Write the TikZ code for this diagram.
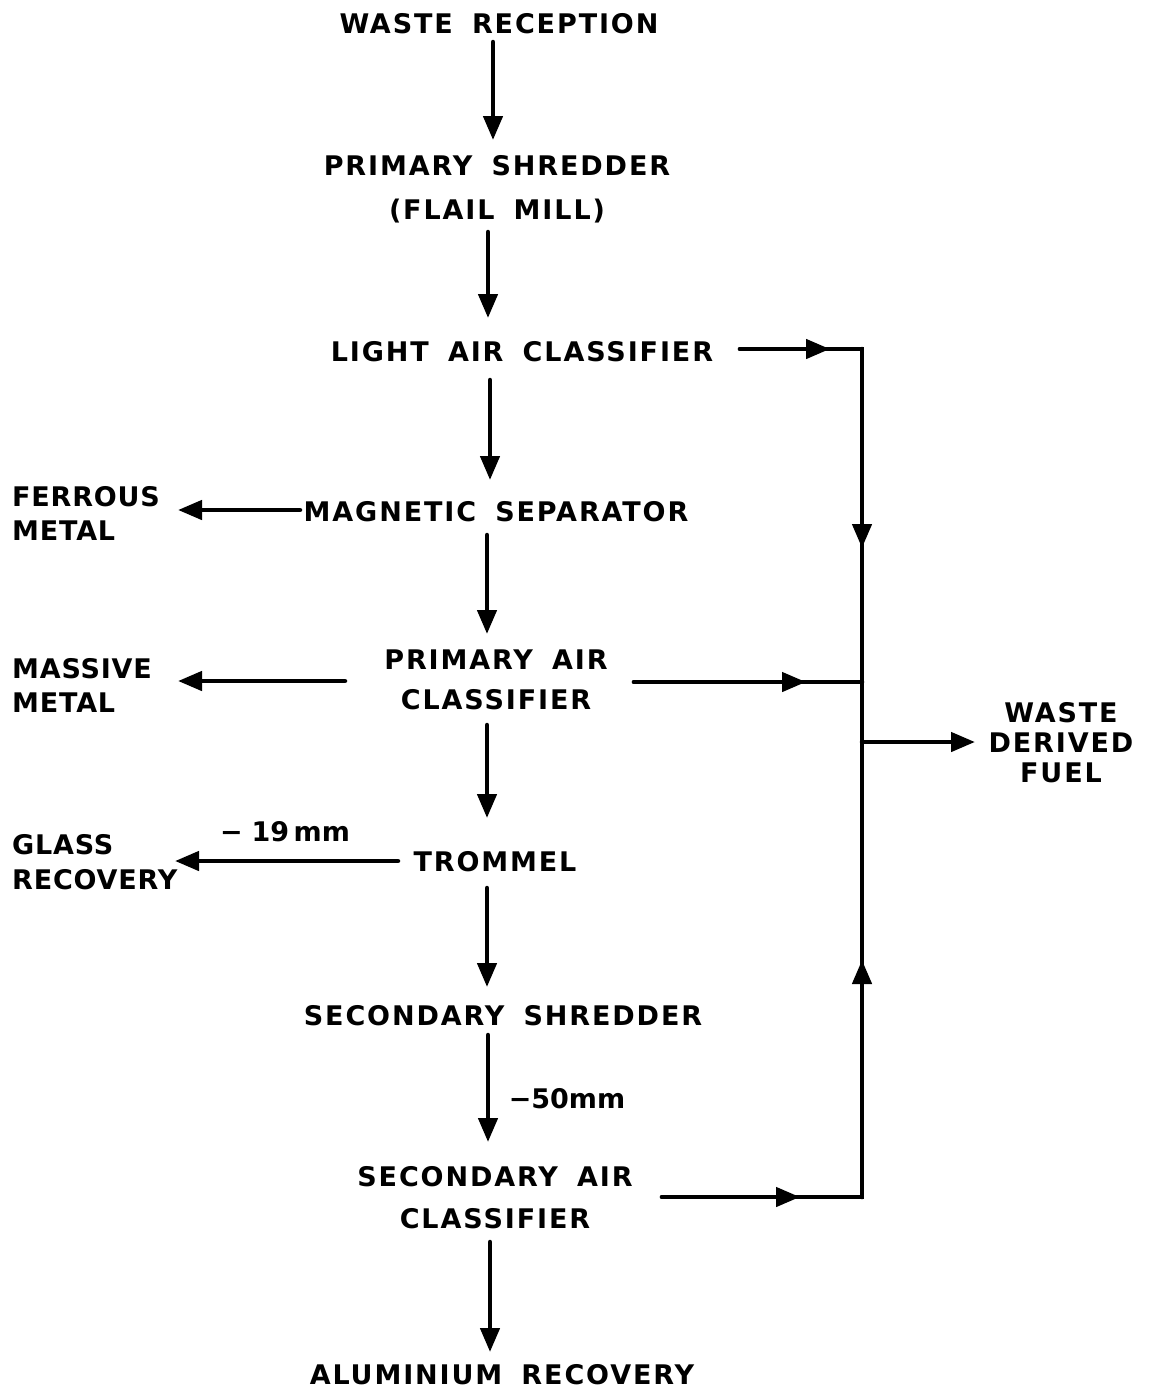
\documentclass[tikz,border=0pt]{standalone}
\usepackage{fontspec}
\setmainfont{DejaVu Sans}
\newfontfamily\wideface{DejaVu Sans}[LetterSpace=7,WordSpace=1.7]
\newfontfamily\sideface{DejaVu Sans}[LetterSpace=3]
\usetikzlibrary{arrows.meta}
\begin{document}
\begin{tikzpicture}[x=1pt,y=-1pt,
  lbl/.style={font=\wideface\fontsize{27}{30}\selectfont\bfseries, inner sep=0pt, align=center},
  lbls/.style={font=\sideface\fontsize{27}{30}\selectfont\bfseries, inner sep=0pt, align=left, anchor=west},
  lbln/.style={font=\fontsize{27}{30}\selectfont\bfseries, inner sep=0pt},
  ln/.style={line width=4.5pt, line cap=round},
  arr/.style={ln, -{Triangle[length=24pt,width=19pt]}}]
\useasboundingbox (0,0) rectangle (1154,1390);
% main column
\node[lbl] (wr) at (499,24) {WASTE RECEPTION};
\node[lbl] (ps) at (497,189) {PRIMARY SHREDDER\\[14pt](FLAIL MILL)};
\node[lbl] (lac) at (522,352) {LIGHT AIR CLASSIFIER};
\node[lbl] (ms) at (496,512) {MAGNETIC SEPARATOR};
\node[lbl] (pac) at (496,680) {PRIMARY AIR\\[10pt]CLASSIFIER};
\node[lbl] (tr) at (495,862) {TROMMEL};
\node[lbl] (ss) at (503,1016) {SECONDARY SHREDDER};
\node[lbl] (sac) at (495,1198) {SECONDARY AIR\\[12pt]CLASSIFIER};
\node[lbl] (ar) at (502,1375) {ALUMINIUM RECOVERY};
% side outputs
\node[lbls] (fm) at (12,513) {FERROUS\\[4pt]METAL};
\node[lbls] (mm) at (12,685) {MASSIVE\\[4pt]METAL};
\node[lbls] (gr) at (12,862) {GLASS\\[5pt]RECOVERY};
\node[lbl] (wdf) at (1061,743) {WASTE\\DERIVED\\FUEL};
% size labels
\node[lbln] (l19) at (285,832) {−\,\,19\,mm};
\node[lbln] (l50) at (567,1099) {−50mm};
% vertical arrow coordinates
\coordinate (a1s) at (493,42);  \coordinate (a1e) at (493,140);
\coordinate (a2s) at (488,232); \coordinate (a2e) at (488,318);
\coordinate (a3s) at (490,380); \coordinate (a3e) at (490,480);
\coordinate (a4s) at (487,535); \coordinate (a4e) at (487,634);
\coordinate (a5s) at (487,725); \coordinate (a5e) at (487,818);
\coordinate (a6s) at (487,888); \coordinate (a6e) at (487,987);
\coordinate (a7s) at (488,1035); \coordinate (a7e) at (488,1142);
\coordinate (a8s) at (490,1242); \coordinate (a8e) at (490,1352);
\draw[arr] (a1s) -- (a1e);
\draw[arr] (a2s) -- (a2e);
\draw[arr] (a3s) -- (a3e);
\draw[arr] (a4s) -- (a4e);
\draw[arr] (a5s) -- (a5e);
\draw[arr] (a6s) -- (a6e);
\draw[arr] (a7s) -- (a7e);
\draw[arr] (a8s) -- (a8e);
% left arrows
\coordinate (fs) at (300,510); \coordinate (fe) at (178,510);
\coordinate (ms0) at (345,681); \coordinate (me) at (178,681);
\coordinate (gs) at (398,861); \coordinate (ge) at (175,861);
\draw[arr] (fs) -- (fe);
\draw[arr] (ms0) -- (me);
\draw[arr] (gs) -- (ge);
% right collector
\coordinate (r1s) at (740,349); \coordinate (r1m) at (830,349); \coordinate (rtop) at (862,349);
\coordinate (r2s) at (634,682); \coordinate (r2m) at (806,682); \coordinate (rj2) at (862,682);
\coordinate (r3s) at (662,1197); \coordinate (r3m) at (800,1197); \coordinate (rbot) at (862,1197);
\coordinate (rdown) at (862,548); \coordinate (rup) at (862,960);
\coordinate (rj) at (862,742); \coordinate (we) at (975,742);
\draw[ln] (r1s) -- (rtop) -- (rbot) -- (r3s);
\draw[ln] (r2s) -- (rj2);
\draw[arr] (r1s) -- (r1m);
\draw[arr] (r2s) -- (r2m);
\draw[arr] (r3s) -- (r3m);
\draw[arr] (rtop) -- (rdown);
\draw[arr] (rbot) -- (rup);
\draw[arr] (rj) -- (we);
\end{tikzpicture}
\end{document}
